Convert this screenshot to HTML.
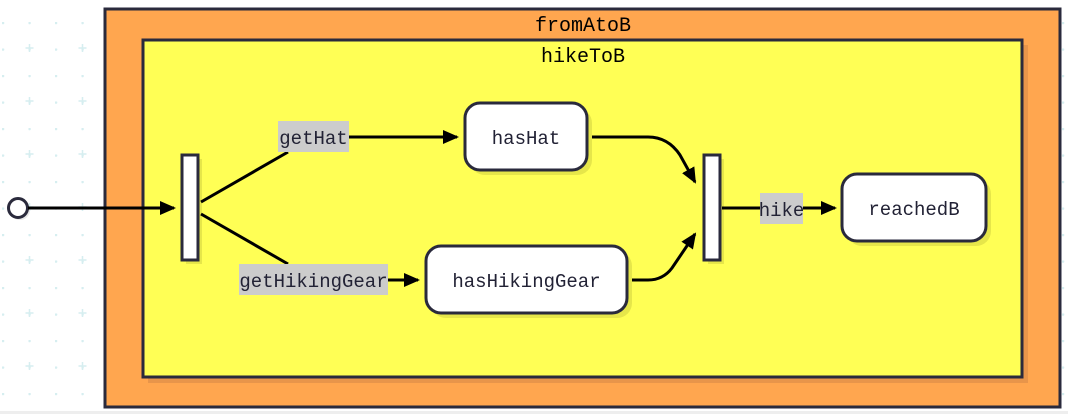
<!DOCTYPE html>
<html><head><meta charset="utf-8"><style>
html,body{margin:0;padding:0;background:#fff;}
svg{display:block;}
text{font-family:"Liberation Mono",monospace;}
</style></head><body>
<svg width="1068" height="414" viewBox="0 0 1068 414" xmlns="http://www.w3.org/2000/svg">
<defs>
<pattern id="dots" width="26.5" height="26.5" patternUnits="userSpaceOnUse" x="2" y="22">
<circle cx="1" cy="1" r="1.3" fill="#d6eef0"/>
</pattern>
<pattern id="plus" width="53" height="53" patternUnits="userSpaceOnUse" x="2" y="22">
<path d="M27.5 22 v8 M23.5 26 h8" stroke="#d6eef0" stroke-width="1.5"/>
</pattern>
<marker id="ar" markerWidth="16" markerHeight="14" refX="14" refY="7" orient="auto" markerUnits="userSpaceOnUse">
<path d="M0,0 L16,7 L0,14 z" fill="#000"/>
</marker>
</defs>
<rect x="0" y="0" width="1068" height="414" fill="url(#dots)"/>
<rect x="0" y="0" width="1068" height="414" fill="url(#plus)"/>
<rect x="0" y="411" width="1068" height="3" fill="#eeeeee"/>
<rect x="105" y="9" width="955" height="398" fill="#ffa64f" stroke="#2a2a3c" stroke-width="3"/>
<text x="583" y="31" font-size="20" text-anchor="middle" fill="#000">fromAtoB</text>
<rect x="148" y="45" width="880" height="338" fill="#e8954a"/>
<rect x="143" y="40" width="879" height="337" fill="#ffff55" stroke="#2a2a3c" stroke-width="3"/>
<text x="583" y="62" font-size="20" text-anchor="middle" fill="#000">hikeToB</text>
<circle cx="20" cy="210" r="10" fill="#e8e8e8"/>
<circle cx="18" cy="208" r="9.5" fill="#fff" stroke="#2a2a3c" stroke-width="3"/>
<line x1="28" y1="208" x2="174" y2="208" stroke="#000" stroke-width="3" marker-end="url(#ar)"/>
<rect x="186" y="159" width="16" height="105" fill="#e6e64a"/>
<rect x="182" y="155" width="16" height="105" fill="#fff" stroke="#2a2a3c" stroke-width="3"/>
<rect x="708" y="159" width="16" height="105" fill="#e6e64a"/>
<rect x="704" y="155" width="16" height="105" fill="#fff" stroke="#2a2a3c" stroke-width="3"/>
<line x1="201" y1="202" x2="288" y2="152" stroke="#000" stroke-width="3"/>
<line x1="349" y1="137" x2="457" y2="137" stroke="#000" stroke-width="3" marker-end="url(#ar)"/>
<line x1="201" y1="214" x2="288" y2="264" stroke="#000" stroke-width="3"/>
<line x1="388" y1="280" x2="418" y2="280" stroke="#000" stroke-width="3" marker-end="url(#ar)"/>
<path d="M587,137 L648,137 Q668,137 680,155 L695,182" fill="none" stroke="#000" stroke-width="3" marker-end="url(#ar)"/>
<path d="M627,280 L648,280 Q663,280 672,268 L695,234" fill="none" stroke="#000" stroke-width="3" marker-end="url(#ar)"/>
<line x1="722" y1="208" x2="760" y2="208" stroke="#000" stroke-width="3"/>
<line x1="803" y1="208" x2="835" y2="208" stroke="#000" stroke-width="3" marker-end="url(#ar)"/>
<rect x="278" y="121" width="71" height="31" fill="#cccccc"/>
<text x="313.5" y="144" font-size="19" text-anchor="middle" fill="#222235">getHat</text>
<rect x="239" y="264" width="149" height="31" fill="#cccccc"/>
<text x="313.5" y="287" font-size="19" text-anchor="middle" fill="#222235">getHikingGear</text>
<rect x="760" y="193" width="43" height="31" fill="#cccccc"/>
<text x="781.5" y="216" font-size="19" text-anchor="middle" fill="#222235">hike</text>
<rect x="470" y="108" width="122" height="67" rx="15" fill="#e6e64a"/>
<rect x="465" y="103" width="122" height="67" rx="15" fill="#fff" stroke="#2a2a3c" stroke-width="3"/>
<text x="526" y="144" font-size="19" text-anchor="middle" fill="#222235">hasHat</text>
<rect x="431" y="251" width="201" height="67" rx="15" fill="#e6e64a"/>
<rect x="426" y="246" width="201" height="67" rx="15" fill="#fff" stroke="#2a2a3c" stroke-width="3"/>
<text x="526.5" y="287" font-size="19" text-anchor="middle" fill="#222235">hasHikingGear</text>
<rect x="847" y="179" width="144" height="67" rx="15" fill="#e6e64a"/>
<rect x="842" y="174" width="144" height="67" rx="15" fill="#fff" stroke="#2a2a3c" stroke-width="3"/>
<text x="914" y="215" font-size="19" text-anchor="middle" fill="#222235">reachedB</text>
</svg>
</body></html>
